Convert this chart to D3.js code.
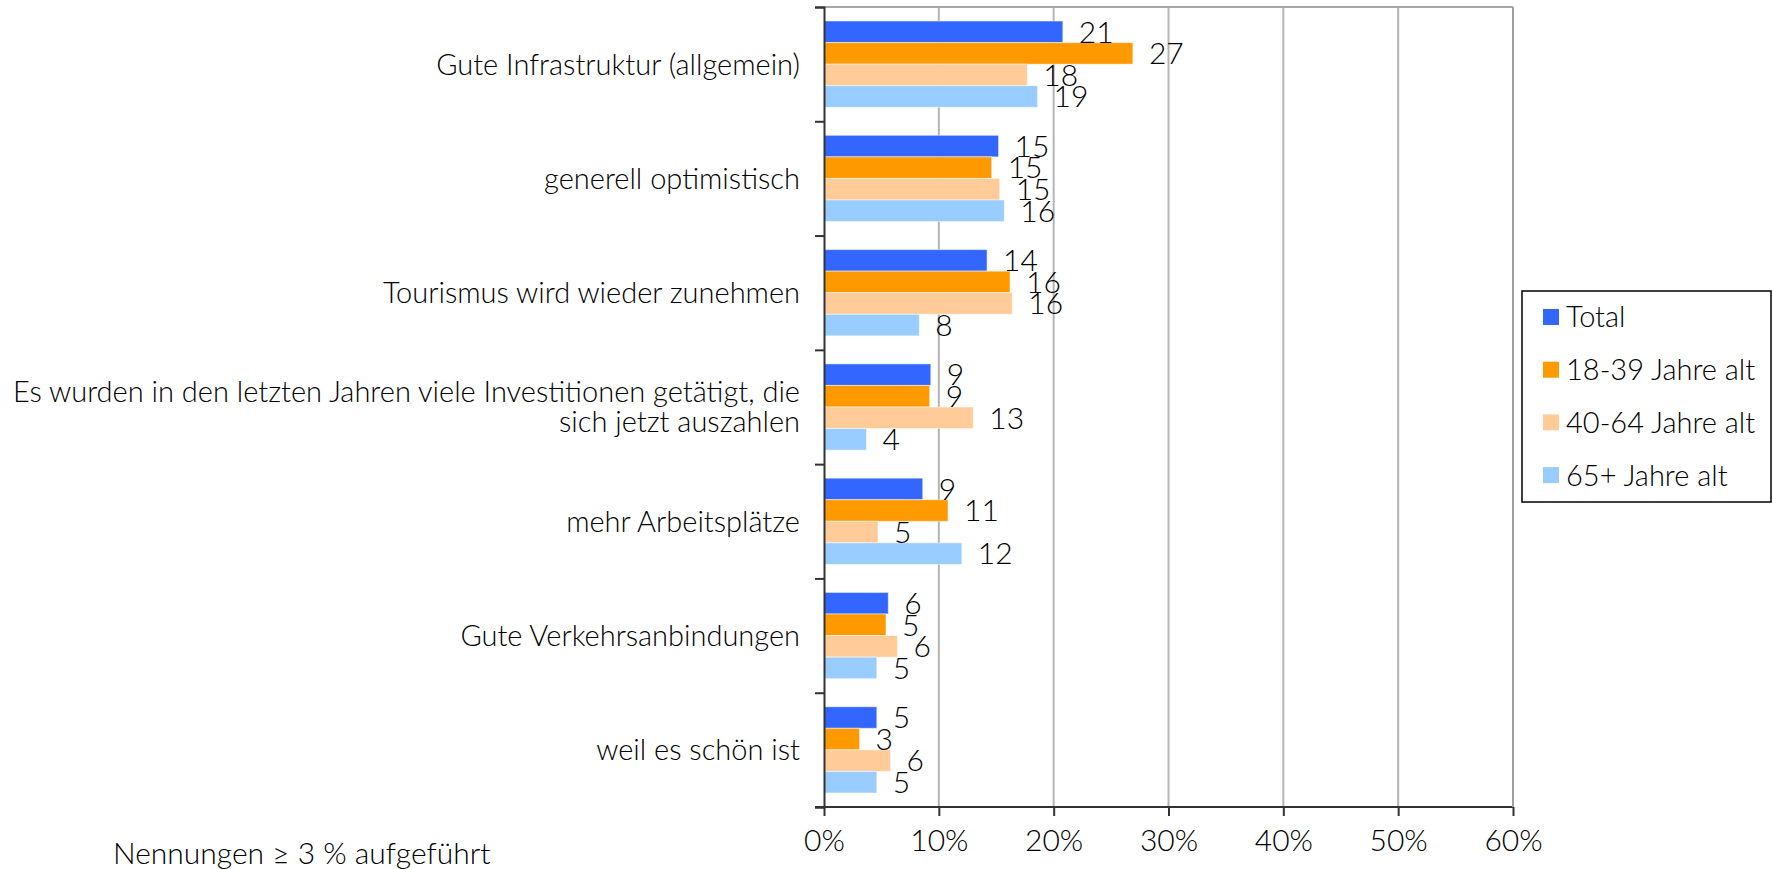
<!DOCTYPE html>
<html><head><meta charset="utf-8">
<script src="https://cdn.jsdelivr.net/npm/d3@7"></script>
<style>
html,body{margin:0;padding:0;background:#fff;}
svg text{font-family:Lato,"Open Sans",sans-serif;font-weight:300;fill:#000;}
</style></head>
<body>
<svg id="chart" width="1773" height="869"></svg>
<script>
const categories = [
  ["Gute Infrastruktur (allgemein)"],
  ["generell optimistisch"],
  ["Tourismus wird wieder zunehmen"],
  ["Es wurden in den letzten Jahren viele Investitionen getätigt, die","sich jetzt auszahlen"],
  ["mehr Arbeitsplätze"],
  ["Gute Verkehrsanbindungen"],
  ["weil es schön ist"]
];
const seriesNames = ["Total","18-39 Jahre alt","40-64 Jahre alt","65+ Jahre alt"];
const seriesColors = ["#3366FF","#FF9900","#FFCC99","#99CCFF"];
const totalVals  = [20.8, 15.2, 14.2, 9.3, 8.6, 5.6, 4.6];
const age1839    = [26.9, 14.6, 16.2, 9.2, 10.8, 5.4, 3.1];
const age4064    = [17.7, 15.3, 16.4, 13.0, 4.7, 6.4, 5.8];
const age65      = [18.6, 15.7, 8.3, 3.7, 12.0, 4.6, 4.6];
const seriesVals = [totalVals, age1839, age4064, age65];
const xTicks = [0,10,20,30,40,50,60];
const footnote = "Nennungen \u2265 3 % aufgeführt";

const svg = d3.select("#chart");
const L = 824, R = 1513, T = 7, B = 807;
const x = d3.scaleLinear().domain([0,60]).range([L,R]);
const catIdx = d3.range(categories.length);
const y = d3.scaleBand().domain(catIdx).range([T,B]).paddingInner(0).paddingOuter(0);
const y1 = d3.scaleBand().domain(d3.range(seriesNames.length)).range([0,y.bandwidth()]).paddingInner(0).paddingOuter(0.65);
const yEdge = d3.scaleLinear().domain([0,categories.length]).range([T,B]);

// gridlines
svg.append("g").selectAll("line").data(xTicks.slice(1)).join("line")
  .attr("x1",d=>x(d)).attr("x2",d=>x(d)).attr("y1",T).attr("y2",B)
  .attr("stroke","#b4b4b4").attr("stroke-width",2);
// top border
svg.append("line").attr("x1",L).attr("x2",R).attr("y1",T).attr("y2",T)
  .attr("stroke","#a8a8a8").attr("stroke-width",2);

// bars
const rows = [];
catIdx.forEach(ci=>seriesVals.forEach((vals,si)=>rows.push({ci,si,v:vals[ci]})));
svg.append("g").selectAll("rect").data(rows).join("rect")
  .attr("x",x(0)).attr("y",d=>y(d.ci)+y1(d.si))
  .attr("width",d=>x(d.v)-x(0)).attr("height",y1.bandwidth())
  .attr("fill",d=>seriesColors[d.si])
  .attr("stroke","rgba(255,255,255,0.5)").attr("stroke-width",1);

// value labels
svg.append("g").selectAll("text").data(rows).join("text")
  .attr("x",d=>x(d.v)+16).attr("y",d=>y(d.ci)+y1(d.si)+y1.bandwidth()/2)
  .attr("dy","0.36em").attr("font-size",30)
  .text(d=>Math.round(d.v));

// left axis
const ax = svg.append("g").attr("transform",`translate(${L},0)`)
  .call(d3.axisLeft(yEdge).tickValues(d3.range(categories.length+1)).tickFormat("").tickSize(9));
ax.selectAll("path,line").attr("stroke","#333").attr("stroke-width",2);

// bottom axis
const bx = svg.append("g").attr("transform",`translate(0,${B})`)
  .call(d3.axisBottom(x).tickValues(xTicks).tickFormat(d=>d+"%").tickSize(9).tickSizeOuter(0).tickPadding(14));
bx.selectAll("path,line").attr("stroke","#333").attr("stroke-width",2);
bx.selectAll("text").attr("font-size",30).attr("font-family",null);
bx.select(".domain").attr("d",`M${L-9},0H${R}`);

// right border line (60% grid)
svg.append("line").attr("x1",R).attr("x2",R).attr("y1",T).attr("y2",B)
  .attr("stroke","#a0a0a0").attr("stroke-width",2);

// category labels
const cl = svg.append("g").selectAll("text").data(catIdx).join("text")
  .attr("text-anchor","end").attr("font-size",29)
  .attr("transform",d=>`translate(800,${y(d)+y.bandwidth()/2})`);
cl.each(function(d){
  const lines = categories[d];
  const n = lines.length;
  d3.select(this).selectAll("tspan").data(lines).join("tspan")
    .attr("x",0).attr("y",(l,i)=>(i-(n-1)/2)*30).attr("dy","0.36em").text(l=>l);
});

// legend
const lg = svg.append("g");
lg.append("rect").attr("x",1522).attr("y",291).attr("width",249).attr("height",211)
  .attr("fill","#fff").attr("stroke","#000").attr("stroke-width",1.5);
const li = lg.selectAll("g.item").data(seriesNames).join("g").attr("class","item")
  .attr("transform",(d,i)=>`translate(1543,${317+i*52.7})`);
li.append("rect").attr("x",0).attr("y",-8).attr("width",16).attr("height",16).attr("fill",(d,i)=>seriesColors[i]);
li.append("text").attr("x",23).attr("dy","0.36em").attr("font-size",29).text(d=>d);

// footnote
svg.append("text").attr("x",113).attr("y",864).attr("font-size",30).text(footnote);
</script>
</body></html>
